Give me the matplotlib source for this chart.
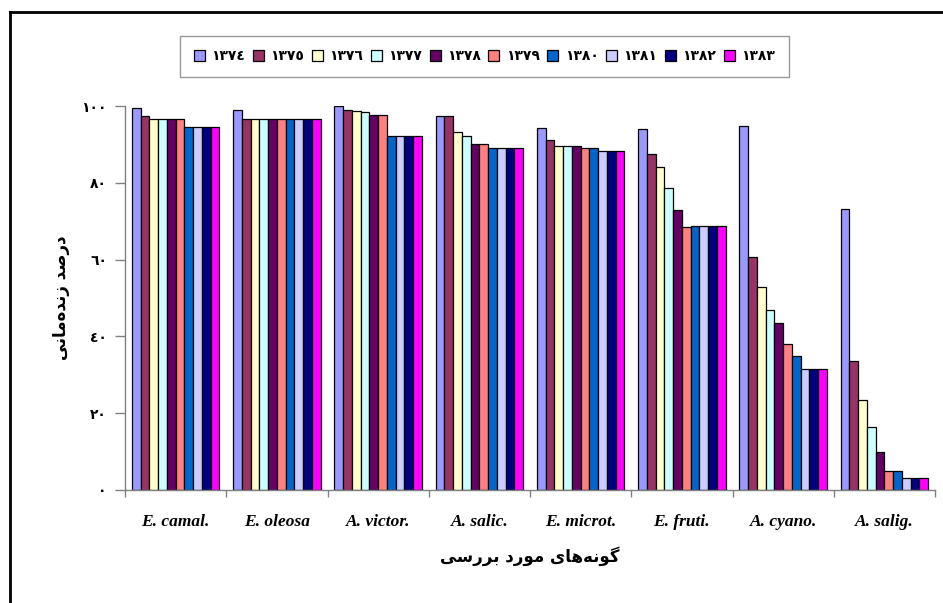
import numpy as np
import matplotlib
matplotlib.use('Agg')
import matplotlib.pyplot as plt
from matplotlib.lines import Line2D

# species (x groups) and survey years (series)
species = ['E. camal.', 'E. oleosa', 'A. victor.', 'A. salic.',
           'E. microt.', 'E. fruti.', 'A. cyano.', 'A. salig.']
years = [1374, 1375, 1376, 1377, 1378, 1379, 1380, 1381, 1382, 1383]

# survival percentage per year, one value per species
s1374 = [99.5, 98.9, 100.0, 97.5, 94.3, 94.0, 94.7, 73.2]
s1375 = [97.5, 96.7, 99.0, 97.5, 91.2, 87.4, 60.6, 33.5]
s1376 = [96.7, 96.7, 98.6, 93.3, 89.7, 84.2, 52.8, 23.4]
s1377 = [96.7, 96.7, 98.5, 92.2, 89.7, 78.6, 46.9, 16.3]
s1378 = [96.7, 96.7, 97.6, 90.1, 89.7, 72.9, 43.4, 9.9]
s1379 = [96.7, 96.7, 97.6, 90.1, 89.0, 68.4, 38.1, 5.0]
s1380 = [94.6, 96.7, 92.1, 89.0, 89.0, 68.7, 34.9, 5.0]
s1381 = [94.6, 96.7, 92.1, 89.0, 88.4, 68.7, 31.4, 3.2]
s1382 = [94.6, 96.7, 92.1, 89.0, 88.4, 68.7, 31.4, 3.2]
s1383 = [94.6, 96.7, 92.1, 89.0, 88.4, 68.7, 31.4, 3.2]
series = [s1374, s1375, s1376, s1377, s1378, s1379, s1380, s1381, s1382, s1383]

colors = ['#9999FF', '#993366', '#FFFFCC', '#CCFFFF', '#660066',
          '#FF8080', '#0066CC', '#CCCCFF', '#000080', '#FF00FF']

yticks = [0, 20, 40, 60, 80, 100]

# Arabic-Indic digits
to_ar = str.maketrans('0123456789', '٠١٢٣٤٥٦٧٨٩')

# Persian labels pre-shaped (presentation forms), stored in visual order
# "گونه‌های مورد بررسی"
xlab_logical = ('\uFB94\uFEEE\uFEE7\uFEEA\uFEEB\uFE8E\uFBFC' + ' ' +
                '\uFEE3\uFEEE\uFEAD\uFEA9' + ' ' +
                '\uFE91\uFEAE\uFEAD\uFEB3\uFBFD')
# "درصد زنده‌مانی"
ylab_logical = ('\uFEA9\uFEAD\uFEBB\uFEAA' + ' ' +
                '\uFEAF\uFEE7\uFEAA\uFEE9\uFEE3\uFE8E\uFEE7\uFBFD')
xlabel = xlab_logical[::-1]
ylabel = ylab_logical[::-1]

fig = plt.figure(figsize=(9.43, 6.03), dpi=100)
ax = fig.add_axes([125 / 943, 1 - 490 / 603, 810 / 943, 384 / 603])

n = len(series)
w = 0.865 / n
x = np.arange(len(species)) + 0.5
for j, (vals, c) in enumerate(zip(series, colors)):
    ax.bar(x + (j - (n - 1) / 2) * w, vals, width=w, color=c,
           edgecolor='black', linewidth=0.9,
           label=str(years[j]).translate(to_ar))

ax.set_xlim(0, len(species))
ax.set_ylim(0, 100)
ax.set_xticks(x)
ax.set_xticklabels(species, fontfamily='Liberation Serif', fontweight='bold',
                   fontstyle='italic', fontsize=12.5)
ax.set_xticks(np.arange(len(species) + 1), minor=True)
ax.tick_params(axis='x', which='major', length=0, pad=17)
ax.tick_params(axis='x', which='minor', length=5, color='#808080', width=1)
ax.set_yticks(yticks)
ax.set_yticklabels([str(v).translate(to_ar) for v in yticks],
                   fontfamily='DejaVu Sans', fontweight='bold', fontsize=10)
ax.tick_params(axis='y', length=7, color='#808080', width=1, pad=6)

for s in ['top', 'right']:
    ax.spines[s].set_visible(False)
for s in ['left', 'bottom']:
    ax.spines[s].set_color('#808080')
    ax.spines[s].set_linewidth(1)

ax.set_xlabel(xlabel, fontfamily='DejaVu Sans', fontweight='bold',
              fontsize=12, labelpad=12)
ax.set_ylabel(ylabel, fontfamily='DejaVu Sans', fontweight='bold',
              fontsize=12, labelpad=8)

leg = fig.legend(loc='center', bbox_to_anchor=(484.5 / 943, 1 - 56.5 / 603),
                 ncol=10, fontsize=10, frameon=True, fancybox=False,
                 handlelength=0.8, handleheight=0.8, handletextpad=0.45,
                 columnspacing=0.55, borderpad=1.0, borderaxespad=0)
leg.get_frame().set_edgecolor('#808080')
leg.get_frame().set_linewidth(1)
for t in leg.get_texts():
    t.set_fontweight('bold')

# outer frame (cropped on right and bottom)
fig.add_artist(Line2D([10 / 943, 10 / 943], [0, 1 - 12 / 603],
                      transform=fig.transFigure, color='black', lw=2))
fig.add_artist(Line2D([10 / 943, 1], [1 - 12 / 603, 1 - 12 / 603],
                      transform=fig.transFigure, color='black', lw=2))

fig.savefig('out.png', dpi=100)
